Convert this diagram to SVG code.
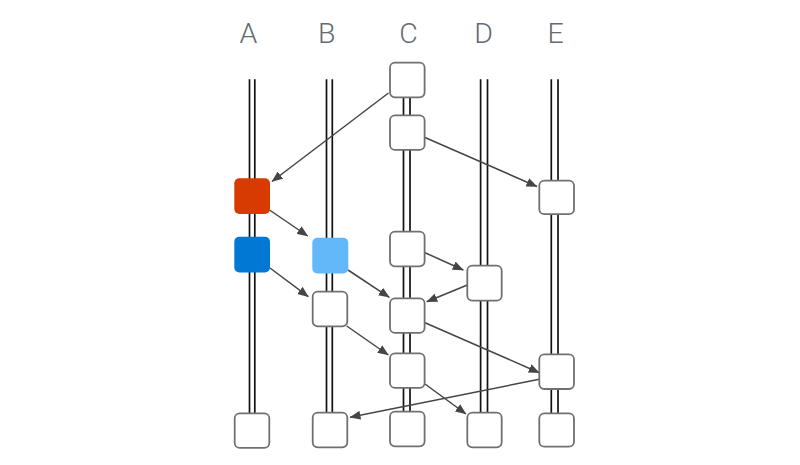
<svg xmlns="http://www.w3.org/2000/svg" width="800" height="465" viewBox="0 0 800 465">
<style>
.lbl{font-family:Roboto,"Liberation Sans",sans-serif;font-weight:300;font-size:28.5px;fill:#636a72;text-anchor:middle}
.lane{stroke:#111;stroke-width:1.7;fill:none}
.box{fill:#fff;stroke:#707070;stroke-width:1.8}
.arr{stroke:#454545;stroke-width:1.5;fill:none;marker-end:url(#ah)}
</style>
<defs>
<marker id="ah" markerUnits="userSpaceOnUse" markerWidth="11" markerHeight="9" refX="10.5" refY="4.5" orient="auto">
<path d="M0,0 L11,4.5 L0,9 z" fill="#454545"/>
</marker>
</defs>
<rect width="800" height="465" fill="#fff"/>
<g id="labels">
<text class="lbl" x="248.3" y="43.3">A</text>
<text class="lbl" x="326.7" y="43.3">B</text>
<text class="lbl" x="408.5" y="43.3">C</text>
<text class="lbl" x="483.7" y="43.3">D</text>
<text class="lbl" x="555.7" y="43.3">E</text>
</g>
<g id="lanes">
<line class="lane" x1="249.5" y1="79.3" x2="249.5" y2="425"/><line class="lane" x1="254.8" y1="79.3" x2="254.8" y2="425"/>
<line class="lane" x1="326.5" y1="79.3" x2="326.5" y2="425"/><line class="lane" x1="332.3" y1="79.3" x2="332.3" y2="425"/>
<line class="lane" x1="403.5" y1="79.3" x2="403.5" y2="425"/><line class="lane" x1="410" y1="79.3" x2="410" y2="425"/>
<line class="lane" x1="480.6" y1="79.3" x2="480.6" y2="425"/><line class="lane" x1="487.5" y1="79.3" x2="487.5" y2="425"/>
<line class="lane" x1="551.3" y1="79.3" x2="551.3" y2="425"/><line class="lane" x1="558" y1="79.3" x2="558" y2="425"/>
</g>
<g id="connectors">
<line class="arr" x1="388.5" y1="93" x2="272" y2="181.5"/>
<line class="arr" x1="425" y1="137.5" x2="537" y2="186.5"/>
<line class="arr" x1="269.5" y1="210" x2="307.7" y2="236"/>
<line class="arr" x1="270" y1="268" x2="308.3" y2="296.7"/>
<line class="arr" x1="348" y1="270" x2="389.3" y2="297.3"/>
<line class="arr" x1="346.7" y1="326" x2="388.3" y2="355"/>
<line class="arr" x1="425" y1="252.7" x2="463.3" y2="270"/>
<line class="arr" x1="467.3" y1="285" x2="426.7" y2="301.7"/>
<line class="arr" x1="425" y1="322.7" x2="539.3" y2="372.7"/>
<line class="arr" x1="425" y1="384" x2="466" y2="414"/>
<line class="arr" x1="539.3" y1="379.3" x2="350" y2="417.3"/>
</g>
<g id="nodeA1"><rect x="234.3" y="178.3" width="35.7" height="35.7" rx="5" fill="#d83b01"/></g>
<g id="nodeA2"><rect x="234.3" y="236.7" width="35.7" height="35.7" rx="5" fill="#0078d4"/></g>
<g id="nodeA3"><rect class="box" x="234.7" y="413.3" width="34.6" height="34.6" rx="5"/></g>
<g id="nodeB1"><rect x="312.3" y="237.7" width="36" height="35.7" rx="5" fill="#62b8f9"/></g>
<g id="nodeB2"><rect class="box" x="312.7" y="291.7" width="34.6" height="34.6" rx="5"/></g>
<g id="nodeB3"><rect class="box" x="312.7" y="412.7" width="34.6" height="34.6" rx="5"/></g>
<g id="nodeC1"><rect class="box" x="390" y="62.7" width="34.6" height="34.6" rx="5"/></g>
<g id="nodeC2"><rect class="box" x="390" y="115.3" width="34.6" height="34.6" rx="5"/></g>
<g id="nodeC3"><rect class="box" x="390" y="231.7" width="34.6" height="34.6" rx="5"/></g>
<g id="nodeC4"><rect class="box" x="390" y="298.3" width="34.6" height="34.6" rx="5"/></g>
<g id="nodeC5"><rect class="box" x="390" y="353.3" width="34.6" height="34.6" rx="5"/></g>
<g id="nodeC6"><rect class="box" x="390" y="411.7" width="34.6" height="34.6" rx="5"/></g>
<g id="nodeD1"><rect class="box" x="467.3" y="265.7" width="34.4" height="35" rx="5"/></g>
<g id="nodeD2"><rect class="box" x="467.3" y="412.7" width="34.4" height="34.6" rx="5"/></g>
<g id="nodeE1"><rect class="box" x="539.3" y="180.7" width="34.7" height="33.5" rx="5"/></g>
<g id="nodeE2"><rect class="box" x="539.3" y="354.3" width="34.7" height="34.7" rx="5"/></g>
<g id="nodeE3"><rect class="box" x="539.3" y="413.3" width="34.7" height="33.4" rx="5"/></g>
</svg>
